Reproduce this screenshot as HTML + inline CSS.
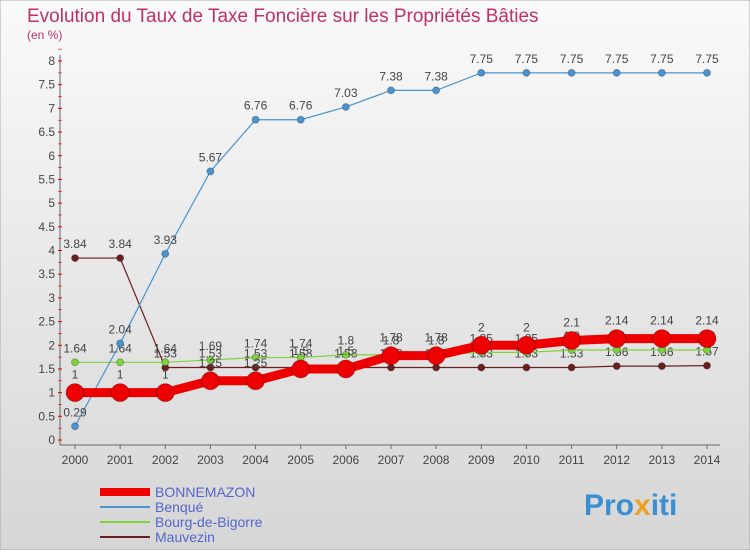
<!DOCTYPE html>
<html><head><meta charset="utf-8"><style>
body{margin:0;width:750px;height:550px;overflow:hidden;font-family:"Liberation Sans",sans-serif}
</style></head><body>
<svg id="c" width="750" height="550" xmlns="http://www.w3.org/2000/svg">
<defs><linearGradient id="bg" x1="0" y1="0" x2="0" y2="1"><stop offset="0" stop-color="#fafafa"/><stop offset="1" stop-color="#d6d6d6"/></linearGradient></defs>
<rect width="750" height="550" fill="url(#bg)" stroke="#aaa"/>
<text x="27" y="22" font-size="19" fill="#c0306a">Evolution du Taux de Taxe Foncière sur les Propriétés Bâties</text>
<text x="27" y="39" font-size="12" fill="#c0306a">(en %)</text>
<g id="g"></g>
<text x="584" y="515" font-size="30" font-weight="bold" fill="#3a8fd0">Pro<tspan fill="#f0a020">x</tspan>iti</text>
</svg>
<script>
const years=[2000,2001,2002,2003,2004,2005,2006,2007,2008,2009,2010,2011,2012,2013,2014];
const yTicks=[0,0.5,1,1.5,2,2.5,3,3.5,4,4.5,5,5.5,6,6.5,7,7.5,8];
const bonnemazon=[1,1,1,1.25,1.25,1.5,1.5,1.78,1.78,2,2,2.1,2.14,2.14,2.14];
const benque=[0.29,2.04,3.93,5.67,6.76,6.76,7.03,7.38,7.38,7.75,7.75,7.75,7.75,7.75,7.75];
const bourg=[1.64,1.64,1.64,1.69,1.74,1.74,1.8,1.8,1.8,1.85,1.85,1.9,1.9,1.9,1.9];
const mauvezin=[3.84,3.84,1.53,1.53,1.53,1.53,1.53,1.53,1.53,1.53,1.53,1.53,1.56,1.56,1.57];
const names=["BONNEMAZON","Benqué","Bourg-de-Bigorre","Mauvezin"];
const NS="http://www.w3.org/2000/svg";
const g=document.getElementById('g');
const X=i=>75+i*(707-75)/14;
const Y=v=>440-v*(440-61)/8;
function el(t,a,p){const e=document.createElementNS(NS,t);for(const k in a)e.setAttribute(k,a[k]);(p||g).appendChild(e);return e;}
let ax=el('line',{x1:60,y1:55,x2:60,y2:445,stroke:'#666'});


let bx=el('line',{x1:60,y1:445,x2:720,y2:445,stroke:'#666'});


yTicks.forEach(v=>{
 const t=el('text',{x:55,y:Y(v)+4,'font-size':12,'text-anchor':'end',fill:'#444'});t.textContent=v;
 
 
 el('line',{x1:58,y1:Y(v),x2:62,y2:Y(v),stroke:'#d00'});
 el('line',{x1:58,y1:Y(v+0.25),x2:62,y2:Y(v+0.25),stroke:'#d00','stroke-width':0.6});
});
years.forEach((yr,i)=>{
 el('line',{x1:X(i),y1:445,x2:X(i),y2:449,stroke:'#666'});
 const t=el('text',{x:X(i),y:464,'font-size':12,'text-anchor':'middle',fill:'#444'});t.textContent=yr;
 
 
});
function series(d,color,w,r,name,lbl){
 const pts=d.map((v,i)=>X(i)+','+Y(v)).join(' ');
 const l=el('polyline',{points:pts,fill:'none',stroke:color,'stroke-width':w});
 
 
 d.forEach((v,i)=>{
  const c=el('circle',{cx:X(i),cy:Y(v),r:r,fill:color,stroke:'rgba(0,0,0,0.25)'});
  
  
  const t=el('text',{x:X(i),y:Y(v)-lbl,'font-size':12,'text-anchor':'middle',fill:'#444'});t.textContent=v;
  
  
 });
}
series(mauvezin,'#6b1f1f',1.2,3.5,'mauvezin',10);
series(bourg,'#7cd43c',1.2,3.5,'bourg',10);
series(benque,'#4a94d0',1.2,3.5,'benque',10);
series(bonnemazon,'#ee0000',9,9,'bonnemazon',14);
const lc=['#ee0000','#4a94d0','#7cd43c','#6b1f1f'],lw=[8,2,2,2];
names.forEach((n,i)=>{
 const y=492+i*15;
 const l=el('line',{x1:100,y1:y,x2:150,y2:y,stroke:lc[i],'stroke-width':lw[i]});
 
 
 const t=el('text',{x:155,y:y+5,'font-size':14,fill:'#5566cc'});t.textContent=n;
 
 
});
</script>
</body></html>
